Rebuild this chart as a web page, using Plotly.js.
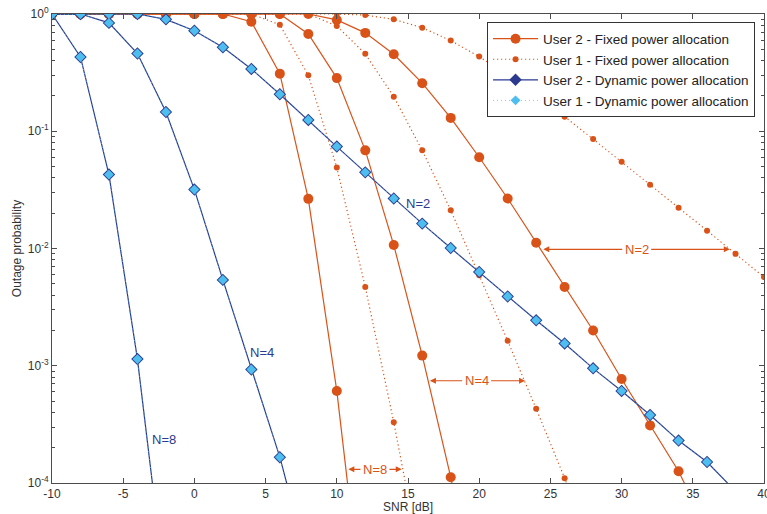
<!DOCTYPE html>
<html>
<head>
<meta charset="utf-8">
<script src="https://cdn.plot.ly/plotly-3.0.1.min.js"></script>
<style>
  html, body { margin: 0; padding: 0; background: #fff; }
  #chart { width: 767px; height: 514px; }
</style>
</head>
<body>
<div id="chart"></div>
<script>
// SNR grid in dB (every curve is sampled from -10 dB upward)
const snr = [-10, -8, -6, -4, -2, 0, 2, 4, 6, 8, 10, 12, 14, 16, 18, 20, 22, 24, 26, 28, 30, 32, 34, 36, 38, 40];

// Fixed power allocation, user 2 (strong user)
const fixedU2_N2 = [1, 1, 1, 1, 1, 1, 1, 1, 1, 1, 0.89, 0.69, 0.454, 0.257, 0.130, 0.060, 0.0267, 0.0112, 0.0047, 0.0020, 7.7e-4, 3.1e-4, 1.26e-4, 4e-5];
const fixedU2_N4 = [1, 1, 1, 1, 1, 1, 1, 1, 1, 0.675, 0.284, 0.0687, 0.0107, 0.00122, 1.12e-4, 8e-6];
const fixedU2_N8 = [1, 1, 1, 1, 1, 1, 1, 0.86, 0.31, 0.0265, 6.1e-4, 5e-6];

// Fixed power allocation, user 1
const fixedU1_N2 = [1, 1, 1, 1, 1, 1, 1, 1, 1, 1, 1, 0.98, 0.90, 0.764, 0.593, 0.433, 0.30, 0.20, 0.133, 0.0857, 0.055, 0.035, 0.0223, 0.0142, 0.0090, 0.0057];
const fixedU1_N4 = [1, 1, 1, 1, 1, 1, 1, 1, 1, 1, 0.79, 0.457, 0.197, 0.0687, 0.0212, 0.0059, 0.00163, 4.3e-4, 1.1e-4, 2.5e-5];
const fixedU1_N8 = [1, 1, 1, 1, 1, 1, 1, 1, 0.81, 0.30, 0.049, 0.0047, 3.3e-4, 1.8e-5];

// Dynamic power allocation: both users reach the same outage probability
const dynU2_N2 = [1, 1, 1, 1, 0.90, 0.72, 0.52, 0.34, 0.207, 0.125, 0.074, 0.0446, 0.0267, 0.0163, 0.0101, 0.0063, 0.0039, 0.00244, 0.00155, 0.00095, 0.00061, 0.00038, 0.00023, 0.000151, 8.5e-5, 5e-5];
const dynU2_N4 = [1, 1, 0.84, 0.46, 0.146, 0.0318, 0.0054, 0.00093, 0.000166, 2e-5];
const dynU2_N8 = [1, 0.43, 0.0427, 0.00114, 1.1e-5];
const dynU1_N2 = dynU2_N2.slice();
const dynU1_N4 = dynU2_N4.slice();
const dynU1_N8 = dynU2_N8.slice();

// Legend names
const legendNames = [
  'User 2 - Fixed power allocation',
  'User 1 - Fixed power allocation',
  'User 2 - Dynamic power allocation',
  'User 1 - Dynamic power allocation'
];

// Axis tick labels
const xTickVals = [-10, -5, 0, 5, 10, 15, 20, 25, 30, 35, 40];
const xTickText = ['-10', '-5', '0', '5', '10', '15', '20', '25', '30', '35', '40'];
const yTickVals = [1e-4, 1e-3, 1e-2, 1e-1, 1];
const yTickText = ['10<sup>-4</sup>', '10<sup>-3</sup>', '10<sup>-2</sup>', '10<sup>-1</sup>', '10<sup>0</sup>'];

const ORANGE = '#D95319';
const NAVY = '#2B3A8F';
const SKY = '#4DBEEE';

function xs(arr) { return snr.slice(0, arr.length); }

function series(vals, name, style, showLeg, rank) {
  return Object.assign({
    x: xs(vals), y: vals, type: 'scatter', mode: 'lines+markers',
    name: name, legendgroup: name, showlegend: showLeg, legendrank: rank,
    cliponaxis: true
  }, style);
}

const sFixedU2 = { line: { color: ORANGE, width: 1.2 }, marker: { symbol: 'circle', size: 10, color: ORANGE } };
const sFixedU1 = { line: { color: ORANGE, width: 1.2, dash: '1.2px,2.8px' }, marker: { symbol: 'circle', size: 6, color: ORANGE } };
const sDynU2 = { line: { color: NAVY, width: 1.2 }, marker: { symbol: 'diamond', size: 9.6, color: NAVY } };
const sDynU1 = { line: { color: SKY, width: 0.8, dash: '1px,3px' }, marker: { symbol: 'diamond', size: 7.6, color: SKY } };

const traces = [
  series(fixedU2_N8, legendNames[0], sFixedU2, true, 1),
  series(fixedU2_N4, legendNames[0], sFixedU2, false, 1),
  series(fixedU2_N2, legendNames[0], sFixedU2, false, 1),
  series(fixedU1_N8, legendNames[1], sFixedU1, true, 2),
  series(fixedU1_N4, legendNames[1], sFixedU1, false, 2),
  series(fixedU1_N2, legendNames[1], sFixedU1, false, 2),
  series(dynU2_N8, legendNames[2], sDynU2, true, 3),
  series(dynU2_N4, legendNames[2], sDynU2, false, 3),
  series(dynU2_N2, legendNames[2], sDynU2, false, 3),
  series(dynU1_N8, legendNames[3], sDynU1, true, 4),
  series(dynU1_N4, legendNames[3], sDynU1, false, 4),
  series(dynU1_N2, legendNames[3], sDynU1, false, 4)
];

// Minor log ticks (2..9 in every decade)
const minorVals = [];
for (let d = -4; d < 0; d++) {
  for (let m = 2; m <= 9; m++) minorVals.push(m * Math.pow(10, d));
}

// Double-headed gap markers between user curves of the same N
function gapArrows(label, xText, yLog, xLeft, xRight) {
  const base = {
    xref: 'x', yref: 'y', axref: 'x', ayref: 'y',
    ax: xText, ay: yLog, y: yLog,
    showarrow: true, arrowhead: 2, arrowsize: 1, arrowwidth: 1.2, arrowcolor: ORANGE,
    standoff: 0, startstandoff: 0, bgcolor: 'rgba(255,255,255,0)',
    borderpad: 2,
    font: { size: 13, color: ORANGE }
  };
  return [
    Object.assign({}, base, { x: xLeft, text: label }),
    Object.assign({}, base, { x: xRight, text: label, font: { size: 13, color: 'rgba(0,0,0,0)' } })
  ];
}

function blueLabel(label, x, yLog) {
  return {
    xref: 'x', yref: 'y', x: x, y: yLog, text: label, showarrow: false,
    font: { size: 13, color: NAVY }
  };
}

const annotations = [].concat(
  gapArrows('N=2', 31.06, -2.007, 24.5, 37.6),
  gapArrows('N=4', 19.82, -3.128, 16.54, 23.22),
  gapArrows('N=8', 12.68, -3.883, 10.81, 14.56),
  [
    blueLabel('N=2', 15.72, -1.615),
    blueLabel('N=4', 4.75, -2.883),
    blueLabel('N=8', -2.13, -3.633)
  ]
);

const axisCommon = {
  showline: true, linecolor: '#4d4d4d', linewidth: 1,
  ticks: 'inside', ticklen: 5, tickwidth: 1, tickcolor: '#4d4d4d',
  mirror: 'allticks', showgrid: false, zeroline: false,
  ticklabeloverflow: 'allow',
  tickfont: { size: 12, color: '#333333' }
};

const layout = {
  width: 767, height: 514,
  margin: { l: 52, r: 3, t: 14, b: 31 },
  paper_bgcolor: '#ffffff', plot_bgcolor: '#ffffff',
  font: { family: '"Liberation Sans", Arial, sans-serif', color: '#333333' },
  showlegend: true,
  legend: {
    x: 0.611, y: 0.982, xanchor: 'left', yanchor: 'top',
    bgcolor: '#ffffff', bordercolor: '#333333', borderwidth: 1,
    font: { size: 13.5, color: '#222222' },
    itemwidth: 45,
    tracegroupgap: 0, itemsizing: 'trace'
  },
  xaxis: Object.assign({}, axisCommon, {
    range: [-10, 40], tickmode: 'array', tickvals: xTickVals, ticktext: xTickText,
    title: { text: 'SNR [dB]', font: { size: 12, color: '#333333' }, standoff: 3 }
  }),
  yaxis: Object.assign({}, axisCommon, {
    type: 'log', range: [-4, 0],
    tickmode: 'array', tickvals: yTickVals, ticktext: yTickText,
    minor: { ticks: 'inside', ticklen: 3, tickcolor: '#4d4d4d', tickmode: 'array', tickvals: minorVals, showgrid: false },
    title: { text: 'Outage probability', font: { size: 12, color: '#333333' }, standoff: 3 }
  }),
  annotations: annotations
};

Plotly.newPlot('chart', traces, layout, { staticPlot: true, displayModeBar: false });
</script>
</body>
</html>
